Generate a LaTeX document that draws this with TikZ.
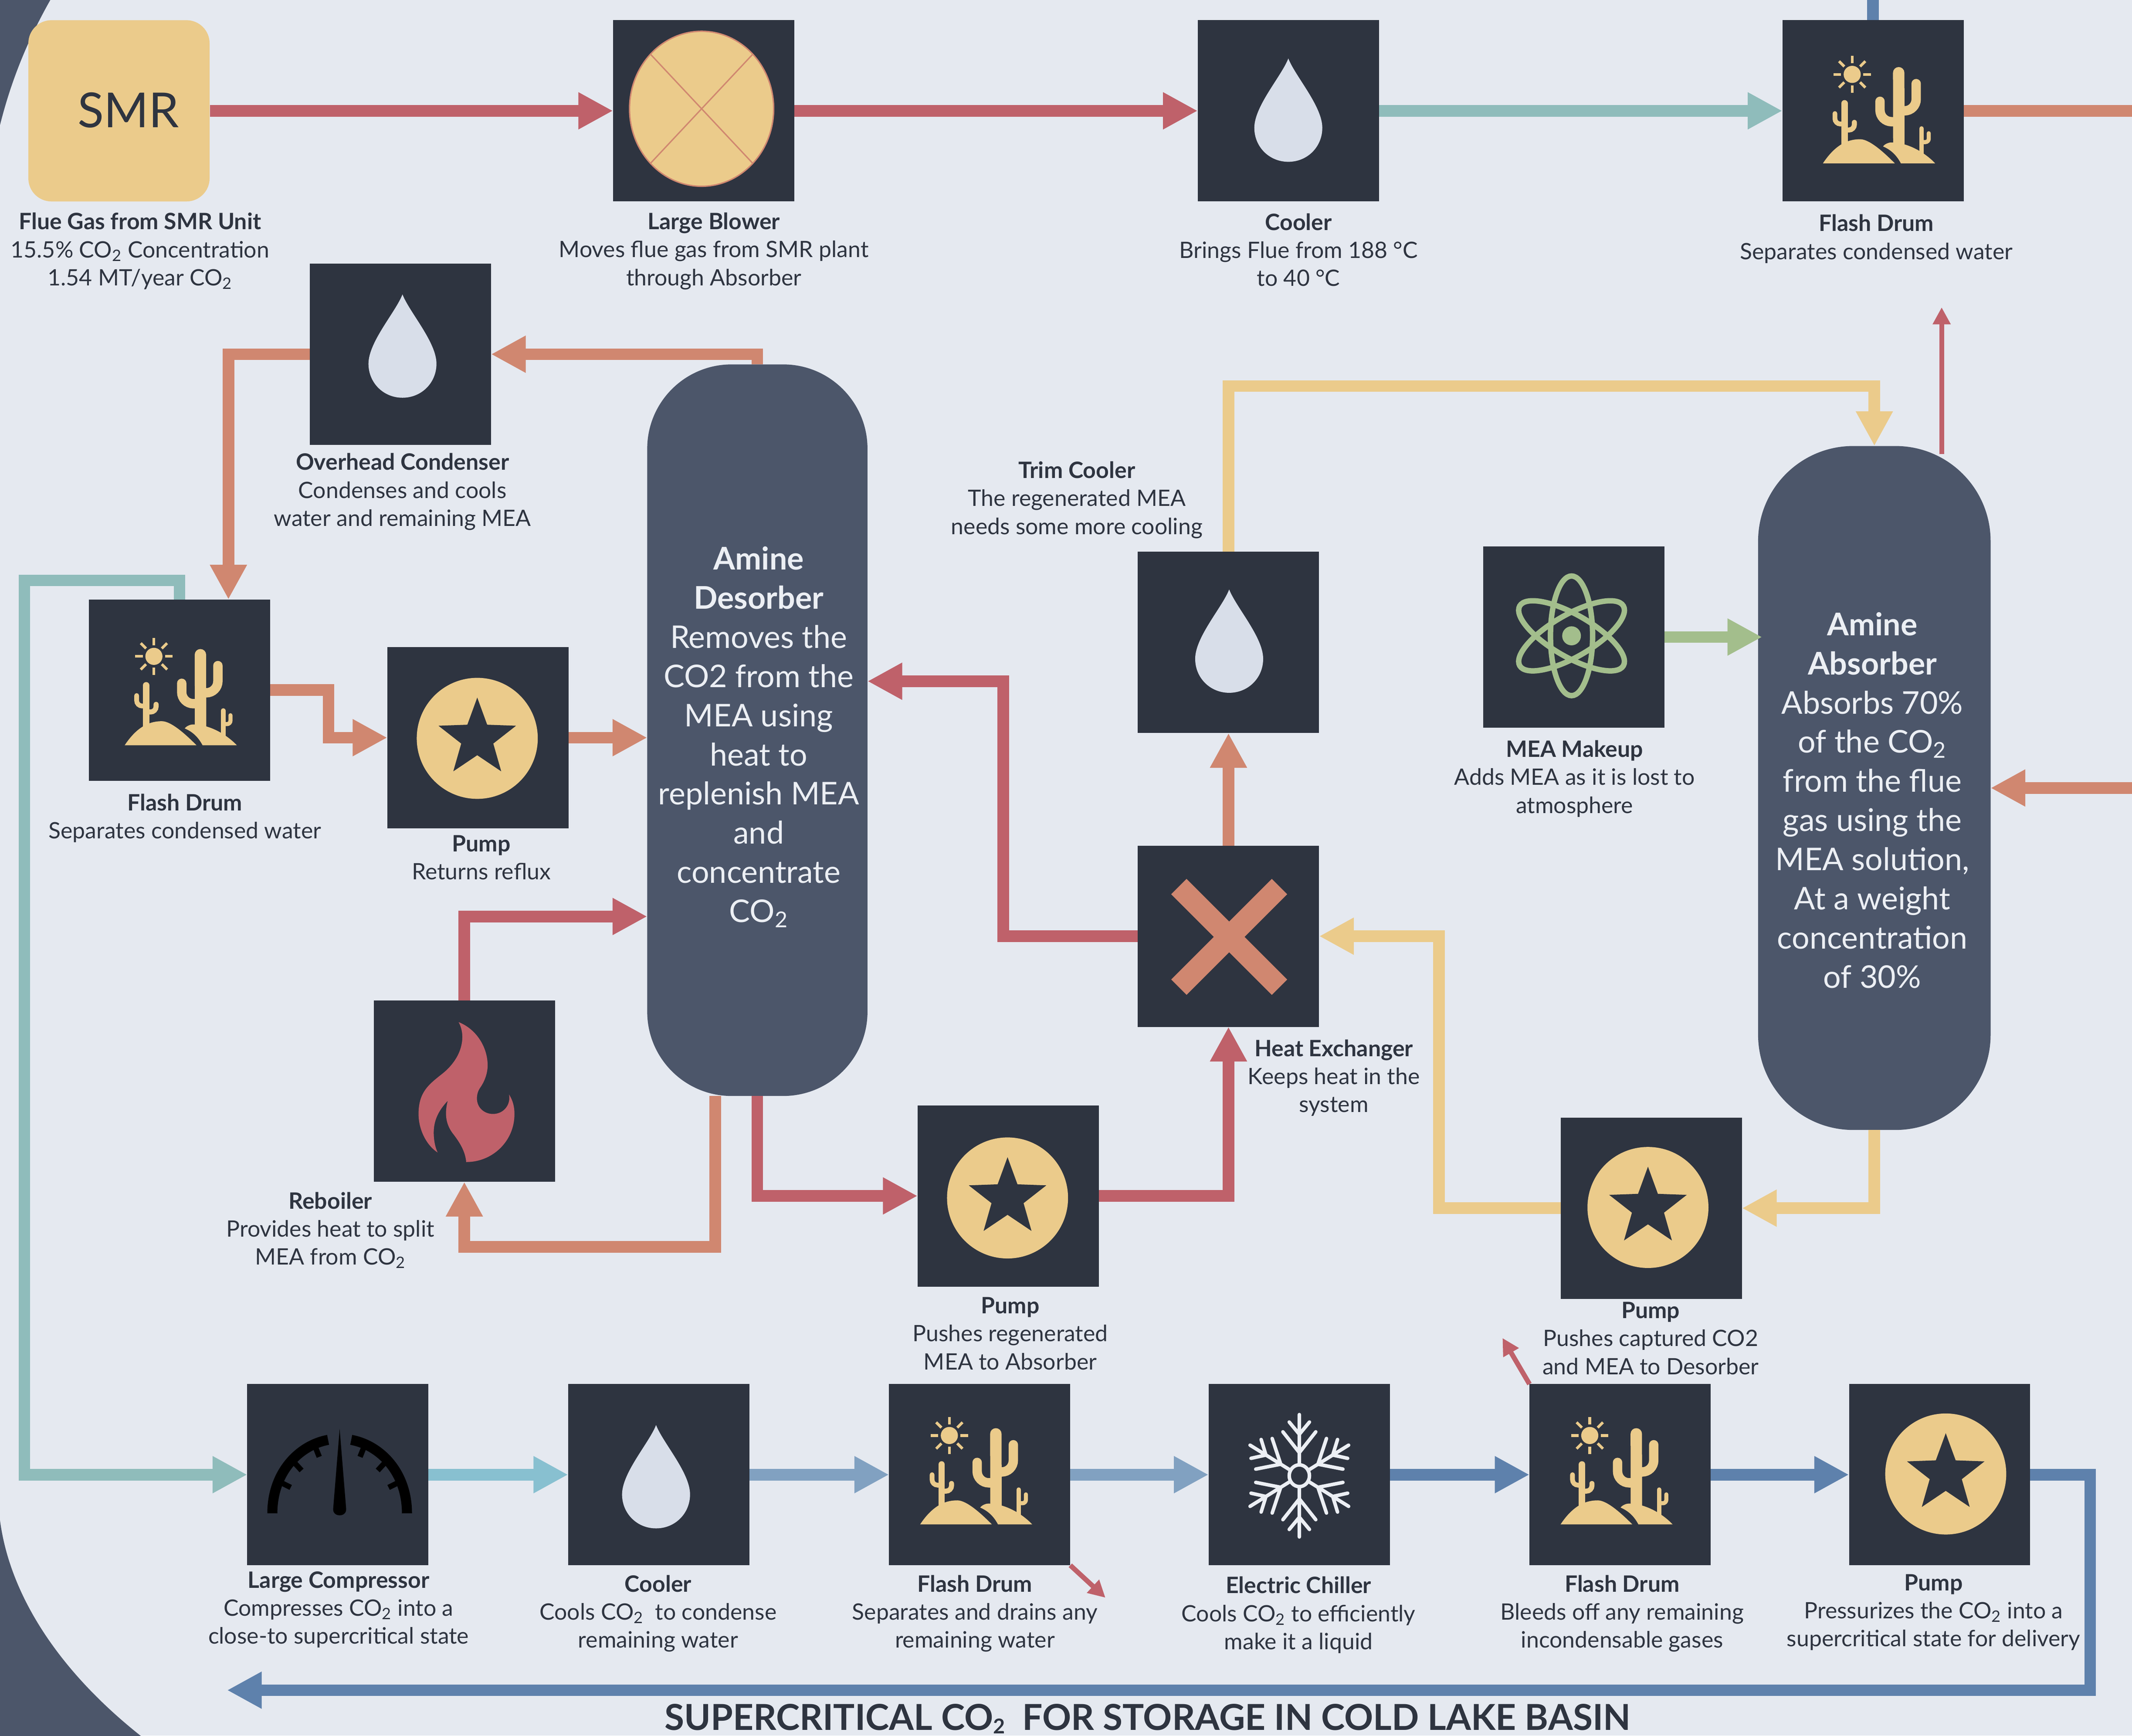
\documentclass[tikz,border=0pt]{standalone}
\usepackage{fontspec}
\setmainfont{Lato}
\usetikzlibrary{arrows.meta,calc}
\definecolor{ink}{HTML}{2E3440}
\definecolor{slate}{HTML}{4C566A}
\definecolor{paper}{HTML}{E5E9F0}
\definecolor{frost}{HTML}{D8DEE9}
\definecolor{snow}{HTML}{ECEFF4}
\definecolor{rust}{HTML}{BF616A}
\definecolor{peach}{HTML}{D08770}
\definecolor{sand}{HTML}{EBCB8B}
\definecolor{leaf}{HTML}{A3BE8C}
\definecolor{teal}{HTML}{8FBCBB}
\definecolor{cyan}{HTML}{88C0D0}
\definecolor{sky}{HTML}{81A1C1}
\definecolor{deep}{HTML}{5E81AC}
\newcommand{\cotwo}{CO\textsubscript{2}}
\tikzset{
  x=1pt,y=-1pt,
  equip/.style={fill=ink,minimum size=133.3pt,inner sep=0pt,outer sep=0pt},
  column/.style={fill=slate,inner sep=0pt,outer sep=0pt},
  lbl/.style={align=center,text=ink,inner sep=0pt,yshift=-.7pt,font=\fontsize{16.6}{20.6}\selectfont},
  towertxt/.style={align=center,text=snow,inner sep=0pt,font=\fontsize{23}{28.8}\selectfont},
  flow/.style={line width=8.5pt,line join=miter,-{Triangle[width=25.5pt,length=25.5pt]}},
  plainflow/.style={line width=8.5pt,line join=miter},
  vent/.style={rust,line width=3.6pt,-{Triangle[width=12.5pt,length=12.5pt]}},
  cactus/.style={draw=sand,line cap=round},
  pics/desert/.style={code={
    \fill[sand] (-18.8,-24.8) circle[radius=6.3pt];
    \foreach \dx/\dy/\ex/\ey in {0/-8.2/0/-13.7, 0/8.2/0/13.7, -8.2/0/-13.7/0, 8.2/0/13.7/0,
       -5.8/-5.8/-9.7/-9.7, 5.8/-5.8/9.7/-9.7, -5.8/5.8/-9.7/9.7, 5.8/5.8/9.7/9.7}
      \draw[sand,line width=2pt] ($(-18.8,-24.8)+(\dx,\dy)$) -- ($(-18.8,-24.8)+(\ex,\ey)$);
    \draw[cactus,line width=8.4pt] (15.4,-26) -- (15.5,28);
    \draw[cactus,line width=6.9pt,rounded corners=8.5pt] (28.25,-18) -- (28.25,2) -- (15,2);
    \draw[cactus,line width=6.9pt,rounded corners=8.5pt] (1.65,-5) -- (1.65,10) -- (14,10);
    \draw[cactus,line width=4.8pt] (-24.5,-3.5) -- (-24.5,30);
    \draw[cactus,line width=3.5pt,rounded corners=4pt] (-31.5,4) -- (-31.5,11.7) -- (-25,11.7);
    \draw[cactus,line width=3.7pt,rounded corners=4pt] (-17.2,10.5) -- (-17.2,16.1) -- (-24,16.1);
    \draw[cactus,line width=3.3pt] (32.2,15) -- (32.2,36);
    \draw[cactus,line width=3pt,rounded corners=2.5pt] (37.5,18.5) -- (37.5,25) -- (33,25);
    \fill[sand] (-40.3,40.6) .. controls (-30,25) and (-20,22.9) .. (-12.9,22.9)
      .. controls (-6,22.9) and (5,33) .. (12.5,40.6) -- cycle;
    \fill[sand] (17,40.6) .. controls (13,33) and (8,30) .. (3.9,28.2)
      .. controls (5,26.5) and (8,25.3) .. (9.6,25.3)
      .. controls (20,25) and (33,31) .. (42.2,40.6) -- cycle;
  }},
  pics/drop/.style={code={
    \fill[frost] (0,-38) .. controls (-5,-25) and (-25,-3) .. (-25,13)
      .. controls (-25,27) and (-14,38) .. (0,38)
      .. controls (14,38) and (25,27) .. (25,13)
      .. controls (25,-3) and (5,-25) .. (0,-38) -- cycle;
  }},
  pics/pumpstar/.style={code={
    \fill[sand] (0,0) circle[radius=44.5pt];
    \fill[ink] (0,-30) -- (7.29,-10.03) -- (28.53,-9.27) -- (11.79,3.83) -- (17.63,24.27)
      -- (0,12.4) -- (-17.63,24.27) -- (-11.79,3.83) -- (-28.53,-9.27) -- (-7.29,-10.03) -- cycle;
  }}
}
\begin{document}
\begin{tikzpicture}
\useasboundingbox (0,0) rectangle (1568,1276.4);
\clip (0,0) rectangle (1568,1276.4);
\fill[paper] (0,0) rectangle (1568,1276.4);
% dark corners
\fill[slate] (0,0) -- (37,0) .. controls (20,30) and (8,60) .. (0,92) -- cycle;
\fill[slate] (0,1118) .. controls (7,1172) and (42,1228) .. (104,1277) -- (0,1277) -- cycle;
% equipment
\node[fill=sand,minimum size=133.3pt,inner sep=0pt,rounded corners=17pt] (smr) at (87.5,81.5) {};
\node[text=ink,inner sep=0pt,font=\fontsize{35.5}{36}\selectfont] (smrtext) at (94.5,81) {SMR};
\node[equip] (blower) at (517.5,81.5) {};
\node[equip] (coolera) at (947.5,81.5) {};
\node[equip] (flasha) at (1377.5,81.5) {};
\node[equip] (overhead) at (294.5,260.5) {};
\node[equip] (flashb) at (132,507.5) {};
\node[equip] (pumpa) at (351.5,542.5) {};
\node[equip] (reboiler) at (341.5,802.5) {};
\node[equip] (trim) at (903.5,472.5) {};
\node[equip] (hx) at (903.5,688.5) {};
\node[equip] (pumpb) at (741.5,879.5) {};
\node[equip] (mea) at (1157.5,468.5) {};
\node[equip] (pumpc) at (1214.5,888.5) {};
\node[equip] (compressor) at (248.5,1084.5) {};
\node[equip] (coolerb) at (484.5,1084.5) {};
\node[equip] (flashc) at (720.5,1084.5) {};
\node[equip] (chiller) at (955.5,1084.5) {};
\node[equip] (flashd) at (1191.5,1084.5) {};
\node[equip] (pumpd) at (1426.5,1084.5) {};
\node[column,rounded corners=62pt,minimum width=162pt,minimum height=538pt] (desorber) at (557,537) {};
\node[column,rounded corners=70pt,minimum width=171pt,minimum height=503pt] (absorber) at (1378.5,579.5) {};
% free ends
\coordinate (topout) at (1568,81.5);
\coordinate (topin) at (1377.5,0);
\coordinate (rightin) at (1568,579.5);
\coordinate (ventastart) at (1428,334);
\coordinate (ventaend) at (1428,226);
\coordinate (ventb) at (813,1175);
\coordinate (ventc) at (1105,984);
\coordinate (storage) at (167,1243);
% connectors
\draw[flow,rust] (smr.east) -- (blower.west);
\draw[flow,rust] (blower.east) -- (coolera.west);
\draw[flow,teal] (coolera.east) -- (flasha.west);
\draw[plainflow,peach] (flasha.east) -- (topout);
\draw[plainflow,deep] (topin) -- (flasha.north);
\draw[flow,peach] (desorber.north) |- (overhead.east);
\draw[flow,peach] (overhead.west) -| ([xshift=36pt]flashb.north);
\draw[flow,peach] (flashb.east) -- ++(43,0) |- (pumpa.west);
\draw[flow,peach] (pumpa.east) -- (pumpa.east -| desorber.west);
\draw[flow,rust] (reboiler.north) |- ([yshift=-137pt]desorber.west);
\draw[flow,peach] ([xshift=-31pt]desorber.south) -- ++(0,111) -| (reboiler.south);
\draw[flow,rust] (desorber.south) |- (pumpb.west);
\draw[flow,rust] (pumpb.east) -| (hx.south);
\draw[flow,rust] (hx.west) -- ++(-99,0) |- ([yshift=36pt]desorber.east);
\draw[flow,peach] (hx.north) -- (trim.south);
\draw[flow,sand] (trim.north) -- ++(0,-122) -| (absorber.north);
\draw[flow,leaf] (mea.east) -- ([xshift=3pt]mea.east -| absorber.west);
\draw[vent] (ventastart) -- (ventaend);
\draw[flow,peach] (rightin) -- (absorber.east);
\draw[flow,sand] (absorber.south) |- (pumpc.east);
\draw[flow,sand] (pumpc.west) -- ++(-89.5,0) |- (hx.east);
\draw[flow,teal] (flashb.north) -- ++(0,-14) -- ++(-114,0) |- (compressor.west);
\draw[flow,cyan] (compressor.east) -- (coolerb.west);
\draw[flow,sky] (coolerb.east) -- (flashc.west);
\draw[flow,sky] (flashc.east) -- (chiller.west);
\draw[flow,deep] (chiller.east) -- (flashd.west);
\draw[flow,deep] (flashd.east) -- (pumpd.west);
\draw[flow,deep] (pumpd.east) -- ++(44,0) |- (storage);
\draw[vent] (flashc.south east) -- (ventb);
\draw[vent] (flashd.north west) -- (ventc);
% icons
\fill[sand,draw=peach,line width=1pt] (516,80) ellipse[x radius=53pt,y radius=57pt];
\draw[peach,line width=1pt] (478.5,40) -- (553.5,120) (553.5,40) -- (478.5,120);
\pic at (947.5,81) {drop};
\pic at (296,254.5) {drop};
\pic at (904,471.5) {drop};
\pic at (482.5,1086) {drop};
\pic at (1381,79.5) {desert};
\pic at (132,507.5) {desert};
\pic at (717,1080.5) {desert};
\pic at (1188,1080.5) {desert};
\pic at (351,543) {pumpstar};
\pic at (741,881) {pumpstar};
\pic at (1212,888) {pumpstar};
\pic at (1431,1084) {pumpstar};
% heat exchanger cross
\draw[peach,line width=16pt] (867,652) -- (941,726) (941,652) -- (867,726);
% atom
\begin{scope}[shift={(1155.8,467.6)}]
  \fill[leaf] (0,0) ellipse[x radius=6.9pt,y radius=7pt];
  \foreach \a in {0,60,-60}
    \draw[leaf,line width=4pt,rotate=\a] (0,0) ellipse[x radius=15.5pt,y radius=44pt];
\end{scope}
% flame
\begin{scope}[shift={(341.6,802.5)},x=.1431pt,y=-.1431pt,shift={(-596,-683)}]
  \fill[rust] (566,328) .. controls (660,365) and (715,460) .. (715,550)
    .. controls (715,590) and (700,630) .. (680,660)
    .. controls (665,680) and (660,700) .. (660,720)
    .. controls (660,770) and (700,800) .. (742,800)
    .. controls (800,800) and (835,750) .. (825,700)
    .. controls (845,730) and (853,765) .. (853,800)
    .. controls (853,940) and (740,1047) .. (605,1047)
    .. controls (600,990) and (570,945) .. (540,905)
    .. controls (495,850) and (495,790) .. (510,732)
    .. controls (465,780) and (438,830) .. (438,895)
    .. controls (438,935) and (445,970) .. (458,998)
    .. controls (400,960) and (360,880) .. (360,800)
    .. controls (360,690) and (410,650) .. (480,595)
    .. controls (550,540) and (585,470) .. (585,405)
    .. controls (585,375) and (578,350) .. (566,328) -- cycle;
\end{scope}
% gauge
\begin{scope}[shift={(249.8,1112.9)}]
  \draw[black,line width=7.4pt] (-49.5,0) .. controls (-49.5,-30) and (-30,-50) .. (-8.5,-54);
  \draw[black,line width=7.4pt] (49.5,0) .. controls (49.5,-30) and (30,-50) .. (8.5,-54);
  \draw[black,line width=4pt] (-44,-23) -- (-36,-19) (-34,-38) -- (-28,-31.5) (-18,-49) -- (-15,-41.5)
     (44,-23) -- (36,-19) (34,-38) -- (28,-31.5) (18,-49) -- (15,-41.5);
  \fill[black] (0,-62) -- (4.8,-3) .. controls (4.8,0) and (2.5,1.5) .. (0,1.5)
     .. controls (-2.5,1.5) and (-4.8,0) .. (-4.8,-3) -- cycle;
\end{scope}
% snowflake
\begin{scope}[shift={(955.6,1085.3)},xscale=.93]
  \draw[snow,line width=2.6pt] (0,0) circle[radius=8pt];
  \foreach \a in {0,60,120,180,240,300}
    \draw[snow,line width=2.6pt,line cap=round,rotate=\a]
      (0,8) -- (0,45) (-13,32.3) -- (0,17) -- (13,32.3) (-8,39.5) -- (0,30.5) -- (8,39.5);
\end{scope}
% labels
\node[lbl] (lsmr) at (103,184) {\textbf{Flue Gas from SMR Unit}\\15.5\% \cotwo{} Concentration\\1.54 MT/year \cotwo};
\node[lbl] (lblower) at (525,184) {\textbf{Large Blower}\\Moves flue gas from SMR plant\\through Absorber};
\node[lbl] (lcoolera) at (955,183) {\textbf{Cooler}\\Brings Flue from 188 °C\\to 40 °C};
\node[lbl] (lflasha) at (1380,175) {\textbf{Flash Drum}\\Separates condensed water};
\node[lbl] (loverhead) at (296,361) {\textbf{Overhead Condenser}\\Condenses and cools\\water and remaining MEA};
\node[lbl] (ltrim) at (792,367) {\textbf{Trim Cooler}\\The regenerated MEA\\needs some more cooling};
\node[lbl] (lflashb) at (136,601) {\textbf{Flash Drum}\\Separates condensed water};
\node[lbl] (lpumpa) at (354,630) {\textbf{Pump}\\Returns reflux};
\node[lbl] (lhx) at (981,792) {\textbf{Heat Exchanger}\\Keeps heat in the\\system};
\node[lbl] (lmea) at (1158,572) {\textbf{MEA Makeup}\\Adds MEA as it is lost to\\atmosphere};
\node[lbl] (lreboiler) at (243,904) {\textbf{Reboiler}\\Provides heat to split\\MEA from \cotwo};
\node[lbl] (lpumpb) at (743,980) {\textbf{Pump}\\Pushes regenerated\\MEA to Absorber};
\node[lbl] (lpumpc) at (1214,983.5) {\textbf{Pump}\\Pushes captured CO2\\and MEA to Desorber};
\node[lbl] (lcomp) at (249,1183) {\textbf{Large Compressor}\\Compresses \cotwo{} into a\\close-to supercritical state};
\node[lbl] (lcoolerb) at (484,1186) {\textbf{Cooler}\\Cools \cotwo{}\ \ to condense\\remaining water};
\node[lbl] (lflashc) at (717,1186) {\textbf{Flash Drum}\\Separates and drains any\\remaining water};
\node[lbl] (lchiller) at (955,1187) {\textbf{Electric Chiller}\\Cools \cotwo{} to efficiently\\make it a liquid};
\node[lbl] (lflashd) at (1193,1186) {\textbf{Flash Drum}\\Bleeds off any remaining\\incondensable gases};
\node[lbl] (lpumpd) at (1422,1185) {\textbf{Pump}\\Pressurizes the \cotwo{} into a\\supercritical state for delivery};
\node[towertxt] (tdes) at (558,542) {\textbf{Amine}\\\textbf{Desorber}\\Removes the\\CO2 from the\\MEA using\\heat to\\replenish MEA\\and\\concentrate\\\cotwo};
\node[towertxt] (tabs) at (1377,588.5) {\textbf{Amine}\\\textbf{Absorber}\\Absorbs 70\%\\of the \cotwo\\from the flue\\gas using the\\MEA solution,\\At a weight\\concentration\\of 30\%};
\node[text=ink,inner sep=0pt,anchor=base,font=\fontsize{26.3}{26.3}\selectfont\bfseries] (title) at (844,1272.5) {SUPERCRITICAL CO\raisebox{-2.5pt}{\fontsize{15}{15}\selectfont 2}\ \ FOR STORAGE IN COLD LAKE BASIN};
\end{tikzpicture}
\end{document}
